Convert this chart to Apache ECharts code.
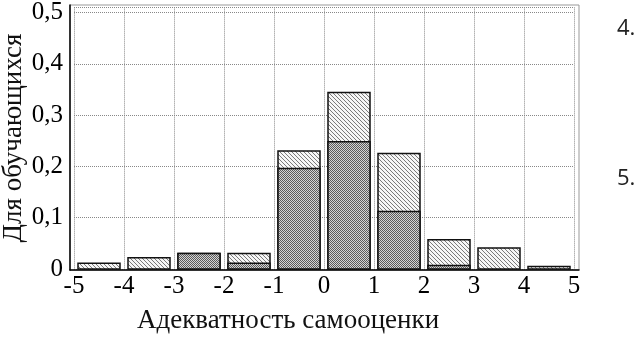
<!DOCTYPE html>
<html><head><meta charset="utf-8">
<script src="https://cdn.jsdelivr.net/npm/echarts@6/dist/echarts.min.js"></script>
<style>html,body{margin:0;padding:0;background:#fff;}#c{width:635px;height:339px;}</style>
</head><body><div id="c"></div>
<script>
// bin left edges
var binStarts = [-5, -4, -3, -2, -1, 0, 1, 2, 3, 4];
// light hatched (total) series
var lightValues = [0.011, 0.022, 0.030, 0.030, 0.230, 0.344, 0.225, 0.057, 0.041, 0.005];
// dark cross-hatched series
var darkValues = [0, 0, 0.030, 0.011, 0.196, 0.248, 0.112, 0.007, 0, 0];
var xTicks = [-5, -4, -3, -2, -1, 0, 1, 2, 3, 4, 5];
var yTicks = [0, 0.1, 0.2, 0.3, 0.4, 0.5];
var xTitle = 'Адекватность самооценки';
var yTitle = 'Для обучающихся';
var sideLabels = ['4.', '5.'];

function makeLight() {
  var c = document.createElement('canvas'); c.width = 4; c.height = 4;
  var g = c.getContext('2d');
  g.fillStyle = '#f6f6f6'; g.fillRect(0, 0, 4, 4);
  g.fillStyle = '#7a7a7a';
  for (var i = 0; i < 4; i++) g.fillRect(i, i, 1, 1);
  return c;
}
function makeDark() {
  var c = document.createElement('canvas'); c.width = 2; c.height = 2;
  var g = c.getContext('2d');
  g.fillStyle = '#d4d4d4'; g.fillRect(0, 0, 2, 2);
  g.fillStyle = '#5a5a5a';
  g.fillRect(0, 0, 1, 1); g.fillRect(1, 1, 1, 1);
  return c;
}
var lightPat = { image: makeLight(), repeat: 'repeat' };
var darkPat = { image: makeDark(), repeat: 'repeat' };

function barRender(pattern) {
  return function (params, api) {
    var x0 = api.value(0), v = api.value(1);
    if (!(v > 0)) return null;
    var p0 = api.coord([x0 + 0.08, v]);
    var p1 = api.coord([x0 + 0.92, 0]);
    return {
      type: 'rect',
      shape: { x: p0[0], y: p0[1], width: p1[0] - p0[0], height: p1[1] - p0[1] },
      style: { fill: pattern, stroke: '#111', lineWidth: 1.5 }
    };
  };
}

var chart = echarts.init(document.getElementById('c'), null, { renderer: 'canvas' });
var serif = '"Liberation Serif", "DejaVu Serif", serif';
chart.setOption({
  animation: false,
  backgroundColor: '#fff',
  grid: [
    { left: 74, right: 61, top: 5, bottom: 70 },
    { left: 70, right: 56, top: 5, bottom: 69, show: true, borderColor: '#999', borderWidth: 1, backgroundColor: 'transparent' }
  ],
  xAxis: [
    {
      type: 'value', gridIndex: 0, min: xTicks[0], max: xTicks[xTicks.length - 1], interval: 1,
      axisLine: { show: false }, axisTick: { show: false },
      splitLine: { show: true, lineStyle: { type: 'dotted', color: '#888', width: 1 } },
      axisLabel: { color: '#000', fontFamily: serif, fontSize: 25, margin: 5 }
    },
    {
      type: 'value', gridIndex: 1, min: 0, max: 1,
      axisLine: { show: true, lineStyle: { color: '#000', width: 1.5 } },
      axisTick: { show: false }, axisLabel: { show: false }, splitLine: { show: false }
    }
  ],
  yAxis: [
    {
      type: 'value', gridIndex: 0, min: 0, max: 0.51, interval: 0.1,
      axisLine: { show: false }, axisTick: { show: false },
      splitLine: { show: true, lineStyle: { type: 'dotted', color: '#888', width: 1 } },
      axisLabel: {
        color: '#000', fontFamily: serif, fontSize: 25, margin: 11, showMaxLabel: false,
        formatter: function (v) {
          var r = Math.round(v * 10) / 10;
          if (Math.abs(r - v) > 1e-6) return '';
          return r === 0 ? '0' : r.toFixed(1).replace('.', ',');
        }
      }
    },
    {
      type: 'value', gridIndex: 1, min: 0, max: 1,
      axisLine: { show: true, lineStyle: { color: '#000', width: 1.5 } },
      axisTick: { show: false }, axisLabel: { show: false }, splitLine: { show: false }
    }
  ],
  series: [
    {
      type: 'custom', xAxisIndex: 0, yAxisIndex: 0,
      renderItem: barRender(lightPat),
      data: binStarts.map(function (b, i) { return [b, lightValues[i]]; }), z: 3
    },
    {
      type: 'custom', xAxisIndex: 0, yAxisIndex: 0,
      renderItem: barRender(darkPat),
      data: binStarts.map(function (b, i) { return [b, darkValues[i]]; }), z: 4
    }
  ],
  graphic: [
    { type: 'text', x: 137, y: 321, style: { text: xTitle, font: '27px ' + serif, fill: '#111', align: 'left', verticalAlign: 'middle' } },
    { type: 'text', x: 14, y: 138, rotation: Math.PI / 2, style: { text: yTitle, font: '27px ' + serif, fill: '#111', align: 'center', verticalAlign: 'middle' } },
    { type: 'text', x: 617, y: 29, style: { text: sideLabels[0], font: '22px "Open Sans", sans-serif', fill: '#222', align: 'left', verticalAlign: 'middle' } },
    { type: 'text', x: 617, y: 179, style: { text: sideLabels[1], font: '22px "Open Sans", sans-serif', fill: '#222', align: 'left', verticalAlign: 'middle' } }
  ]
});
</script>
</body></html>
